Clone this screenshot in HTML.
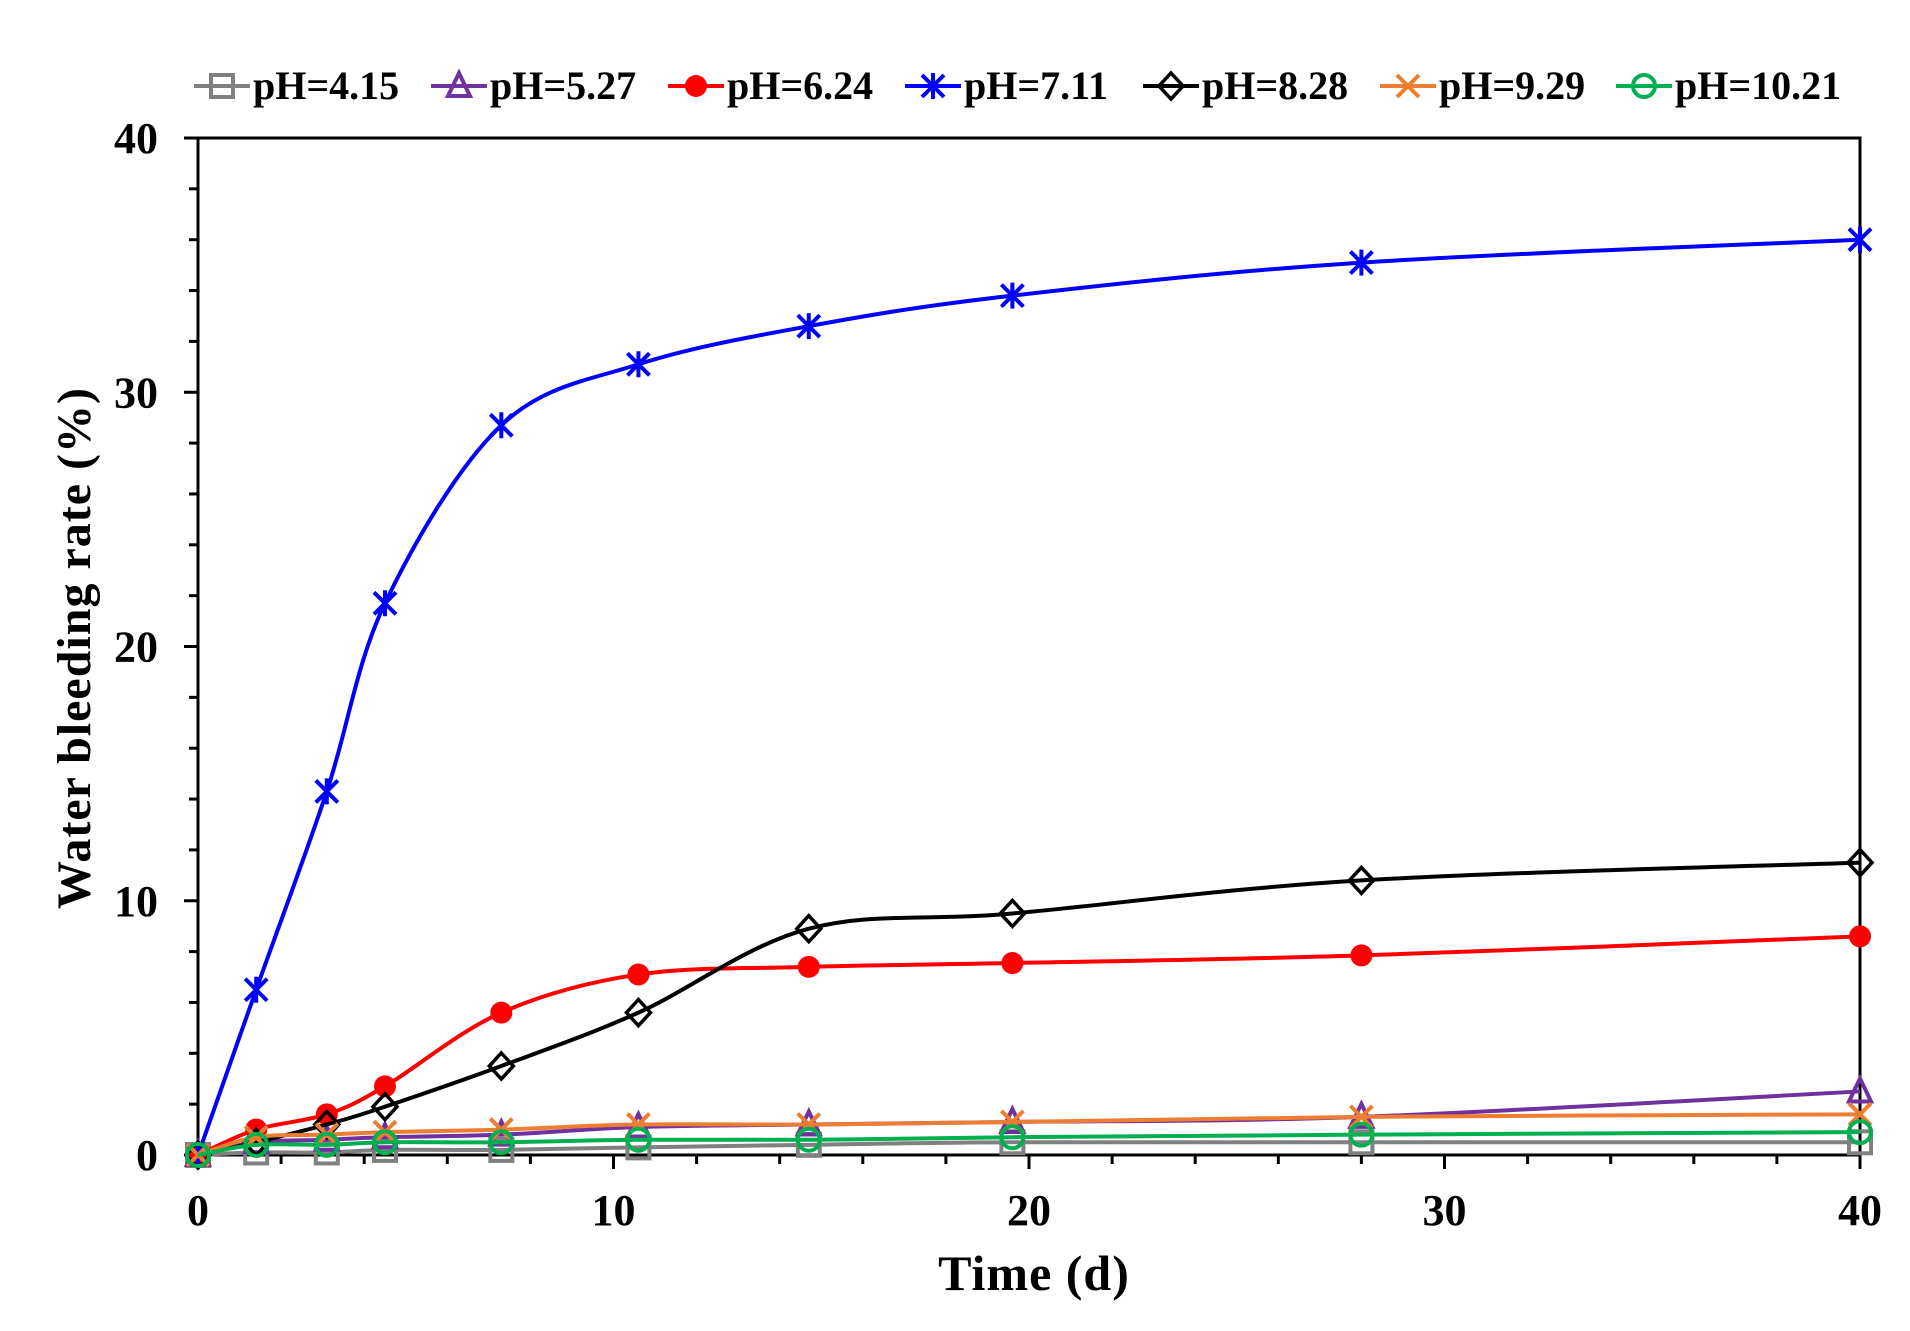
<!DOCTYPE html>
<html><head><meta charset="utf-8"><style>
html,body{margin:0;padding:0;background:#fff;}
svg{display:block;font-family:"Liberation Serif",serif;font-weight:bold;}
</style></head><body>
<svg id="s" width="1910" height="1331" viewBox="0 0 1910 1331" xmlns="http://www.w3.org/2000/svg">
<rect width="1910" height="1331" fill="#fff"/>
<g id="g"></g>
<text x="90" y="648" font-size="48" text-anchor="middle" transform="rotate(-90 90 648)" letter-spacing="1">Water bleeding rate (%)</text>
<text x="1034" y="1290" font-size="50" text-anchor="middle" letter-spacing="1">Time (d)</text>
</svg>
<script>
var L=198,R=1860,T=138,B=1155;
function X(v){return L+(R-L)*v/40;}
function Y(v){return B-(B-T)*v/40;}
var g=document.getElementById('g'),h='';
h+='<rect x="'+L+'" y="'+T+'" width="'+(R-L)+'" height="'+(B-T)+'" fill="none" stroke="#000" stroke-width="3"/>';
for(var i=0;i<=40;i+=2){var x=X(i),maj=i%10==0;h+='<line x1="'+x+'" y1="'+B+'" x2="'+x+'" y2="'+(B+(maj?14:9))+'" stroke="#000" stroke-width="3"/>';
 var y=Y(i);h+='<line x1="'+L+'" y1="'+y+'" x2="'+(L-(maj?14:9))+'" y2="'+y+'" stroke="#000" stroke-width="3"/>';
 if(maj){h+='<text x="'+x+'" y="'+(B+70)+'" font-size="44" text-anchor="middle">'+i+'</text>';
 h+='<text x="'+(L-40)+'" y="'+(y+15)+'" font-size="44" text-anchor="end">'+i+'</text>';}}
var t=[0,1.4,3.1,4.5,7.3,10.6,14.7,19.6,28,40];
var S=[
['#808080','sq',[0,0.1,0.1,0.2,0.2,0.3,0.4,0.5,0.5,0.5],'pH=4.15'],
['#7030a0','tri',[0,0.5,0.6,0.7,0.8,1.1,1.2,1.3,1.5,2.5],'pH=5.27'],
['#ff0000','dot',[0,1.0,1.6,2.7,5.6,7.1,7.4,7.55,7.85,8.6],'pH=6.24'],
['#0000ff','star',[0,6.5,14.3,21.7,28.7,31.1,32.6,33.8,35.1,36.0],'pH=7.11'],
['#000000','dia',[0,0.5,1.2,1.9,3.5,5.6,8.9,9.5,10.8,11.5],'pH=8.28'],
['#ed7d31','x',[0,0.7,0.8,0.9,1.0,1.2,1.2,1.3,1.5,1.6],'pH=9.29'],
['#00b050','circ',[0,0.4,0.4,0.5,0.5,0.6,0.6,0.7,0.8,0.9],'pH=10.21']];
function mk(type,c,x,y){var r=11;
 if(type=='sq')return '<rect x="'+(x-r)+'" y="'+(y-r)+'" width="'+2*r+'" height="'+2*r+'" fill="none" stroke="'+c+'" stroke-width="4"/>';
 if(type=='tri')return '<polygon points="'+x+','+(y-r-2)+' '+(x+r)+','+(y+r-1)+' '+(x-r)+','+(y+r-1)+'" fill="none" stroke="'+c+'" stroke-width="4"/>';
 if(type=='dot')return '<circle cx="'+x+'" cy="'+y+'" r="11" fill="'+c+'"/>';
 if(type=='circ')return '<circle cx="'+x+'" cy="'+y+'" r="11" fill="none" stroke="'+c+'" stroke-width="4"/>';
 if(type=='dia')return '<polygon points="'+x+','+(y-r-2)+' '+(x+r+1)+','+y+' '+x+','+(y+r+2)+' '+(x-r-1)+','+y+'" fill="none" stroke="'+c+'" stroke-width="3.5"/>';
 if(type=='x')return '<path d="M'+(x-r)+' '+(y-r)+'L'+(x+r)+' '+(y+r)+'M'+(x+r)+' '+(y-r)+'L'+(x-r)+' '+(y+r)+'" stroke="'+c+'" stroke-width="4"/>';
 if(type=='star')return '<path d="M'+(x-r)+' '+(y-r)+'L'+(x+r)+' '+(y+r)+'M'+(x+r)+' '+(y-r)+'L'+(x-r)+' '+(y+r)+'M'+x+' '+(y-r-2)+'L'+x+' '+(y+r+2)+'" stroke="'+c+'" stroke-width="4"/>';}
S.forEach(function(s,k){var p=t.map(function(v,i){return [X(v),Y(s[2][i])];});
 var d='M'+p[0][0]+' '+p[0][1];
 for(var i=0;i<p.length-1;i++){var p0=p[i-1]||p[i],p1=p[i],p2=p[i+1],p3=p[i+2]||p2,f=6;
  d+='C'+(p1[0]+(p2[0]-p0[0])/f)+' '+(p1[1]+(p2[1]-p0[1])/f)+' '+(p2[0]-(p3[0]-p1[0])/f)+' '+(p2[1]-(p3[1]-p1[1])/f)+' '+p2[0]+' '+p2[1];}
 h+='<path d="'+d+'" fill="none" stroke="'+s[0]+'" stroke-width="4"/>';
 p.forEach(function(q){h+=mk(s[1],s[0],q[0],q[1]);});
 var lx=[194,431,668,905,1143,1380,1616][k],ly=86;
 h+='<line x1="'+lx+'" y1="'+ly+'" x2="'+(lx+56)+'" y2="'+ly+'" stroke="'+s[0]+'" stroke-width="4"/>'+mk(s[1],s[0],lx+28,ly);
 h+='<text x="'+(lx+59)+'" y="'+(ly+13)+'" font-size="40">'+s[3]+'</text>';});
g.innerHTML=h;
</script>
</body></html>
